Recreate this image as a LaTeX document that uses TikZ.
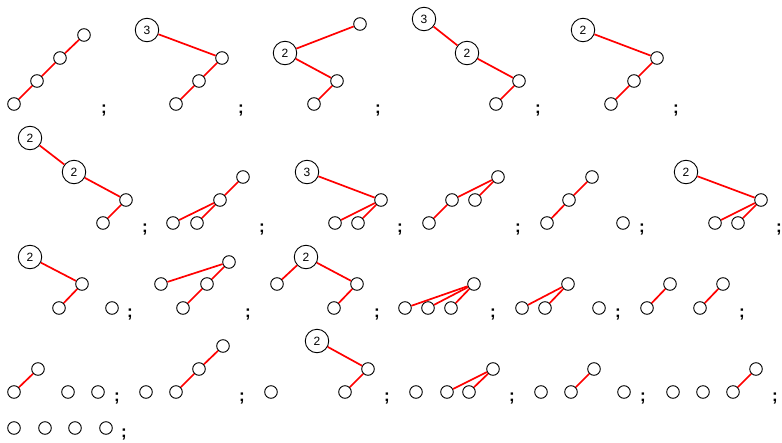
\documentclass[tikz,border=0pt]{standalone}
\usepackage{fontspec}
\setmainfont{Liberation Sans}
\begin{document}
\begin{tikzpicture}[x=1pt,y=-1pt,
  sn/.style={circle,draw=black,line width=0.9pt,inner sep=0pt,minimum size=12.6pt,fill=white},
  bn/.style={circle,draw=black,line width=0.9pt,inner sep=0pt,minimum size=23.5pt,fill=white,font=\fontsize{12}{12}\selectfont},
  ed/.style={draw=red,line width=1.7pt},
  sc/.style={anchor=base,inner sep=0pt,font=\fontsize{17}{17}\selectfont\bfseries}]
\useasboundingbox (0,0) rectangle (782,442);
% Row 1
\node[sn] (t1a) at (84,35) {}; \node[sn] (t1b) at (60,58) {}; \node[sn] (t1c) at (37,81) {}; \node[sn] (t1d) at (14,104) {};
\draw[ed] (t1a) -- (t1b); \draw[ed] (t1b) -- (t1c); \draw[ed] (t1c) -- (t1d);
\node[sc] (s1) at (104,113) {;};
\node[bn] (t2a) at (147,30) {3}; \node[sn] (t2b) at (222,58) {}; \node[sn] (t2c) at (199,81) {}; \node[sn] (t2d) at (176,104) {};
\draw[ed] (t2a) -- (t2b); \draw[ed] (t2b) -- (t2c); \draw[ed] (t2c) -- (t2d);
\node[sc] (s2) at (241,113) {;};
\node[bn] (t3a) at (285,53) {2}; \node[sn] (t3b) at (360,24) {}; \node[sn] (t3c) at (337,81) {}; \node[sn] (t3d) at (314,104) {};
\draw[ed] (t3a) -- (t3b); \draw[ed] (t3a) -- (t3c); \draw[ed] (t3c) -- (t3d);
\node[sc] (s3) at (378,113) {;};
\node[bn] (t4a) at (424,19) {3}; \node[bn] (t4b) at (467,53) {2}; \node[sn] (t4c) at (519,81) {}; \node[sn] (t4d) at (496,104) {};
\draw[ed] (t4a) -- (t4b); \draw[ed] (t4b) -- (t4c); \draw[ed] (t4c) -- (t4d);
\node[sc] (s4) at (538,113) {;};
\node[bn] (t5a) at (583,30) {2}; \node[sn] (t5b) at (657,58) {}; \node[sn] (t5c) at (634,81) {}; \node[sn] (t5d) at (611,104) {};
\draw[ed] (t5a) -- (t5b); \draw[ed] (t5b) -- (t5c); \draw[ed] (t5c) -- (t5d);
\node[sc] (s5) at (676,113) {;};
% Row 2
\node[bn] (t6a) at (30,138) {2}; \node[bn] (t6b) at (74,172) {2}; \node[sn] (t6c) at (126,200) {}; \node[sn] (t6d) at (103,223) {};
\draw[ed] (t6a) -- (t6b); \draw[ed] (t6b) -- (t6c); \draw[ed] (t6c) -- (t6d);
\node[sc] (s6) at (145,232) {;};
\node[sn] (t7a) at (243,177) {}; \node[sn] (t7b) at (220,200) {}; \node[sn] (t7c) at (173,223) {}; \node[sn] (t7d) at (197,223) {};
\draw[ed] (t7a) -- (t7b); \draw[ed] (t7b) -- (t7c); \draw[ed] (t7b) -- (t7d);
\node[sc] (s7) at (262,232) {;};
\node[bn] (t8a) at (307,172) {3}; \node[sn] (t8b) at (381,200) {}; \node[sn] (t8c) at (335,223) {}; \node[sn] (t8d) at (358,223) {};
\draw[ed] (t8a) -- (t8b); \draw[ed] (t8b) -- (t8c); \draw[ed] (t8b) -- (t8d);
\node[sc] (s8) at (400,232) {;};
\node[sn] (t9a) at (498,177) {}; \node[sn] (t9b) at (452,200) {}; \node[sn] (t9c) at (475,200) {}; \node[sn] (t9d) at (429,223) {};
\draw[ed] (t9a) -- (t9b); \draw[ed] (t9a) -- (t9c); \draw[ed] (t9b) -- (t9d);
\node[sc] (s9) at (518,232) {;};
\node[sn] (t10a) at (592,177) {}; \node[sn] (t10b) at (569,200) {}; \node[sn] (t10c) at (547,223) {}; \node[sn] (t10e) at (623,223) {};
\draw[ed] (t10a) -- (t10b); \draw[ed] (t10b) -- (t10c);
\node[sc] (s10) at (642,232) {;};
\node[bn] (t11a) at (686,172) {2}; \node[sn] (t11b) at (761,200) {}; \node[sn] (t11c) at (715,223) {}; \node[sn] (t11d) at (738,223) {};
\draw[ed] (t11a) -- (t11b); \draw[ed] (t11b) -- (t11c); \draw[ed] (t11b) -- (t11d);
\node[sc] (s11) at (779,232) {;};
% Row 3
\node[bn] (t12a) at (30,257) {2}; \node[sn] (t12b) at (82,284) {}; \node[sn] (t12c) at (59,308) {}; \node[sn] (t12e) at (112,308) {};
\draw[ed] (t12a) -- (t12b); \draw[ed] (t12b) -- (t12c);
\node[sc] (s12) at (130,317) {;};
\node[sn] (t13a) at (229,262) {}; \node[sn] (t13b) at (161,284) {}; \node[sn] (t13c) at (207,284) {}; \node[sn] (t13d) at (183,308) {};
\draw[ed] (t13a) -- (t13b); \draw[ed] (t13a) -- (t13c); \draw[ed] (t13c) -- (t13d);
\node[sc] (s13) at (248,317) {;};
\node[bn] (t14a) at (306,257) {2}; \node[sn] (t14b) at (277,284) {}; \node[sn] (t14c) at (357,284) {}; \node[sn] (t14d) at (334,308) {};
\draw[ed] (t14a) -- (t14b); \draw[ed] (t14a) -- (t14c); \draw[ed] (t14c) -- (t14d);
\node[sc] (s14) at (377,317) {;};
\node[sn] (t15a) at (474,284) {}; \node[sn] (t15b) at (405,308) {}; \node[sn] (t15c) at (428,308) {}; \node[sn] (t15d) at (451,308) {};
\draw[ed] (t15a) -- (t15b); \draw[ed] (t15a) -- (t15c); \draw[ed] (t15a) -- (t15d);
\node[sc] (s15) at (493,317) {;};
\node[sn] (t16a) at (568,284) {}; \node[sn] (t16b) at (522,308) {}; \node[sn] (t16c) at (545,308) {}; \node[sn] (t16e) at (599,308) {};
\draw[ed] (t16a) -- (t16b); \draw[ed] (t16a) -- (t16c);
\node[sc] (s16) at (618,317) {;};
\node[sn] (t17a) at (670,284) {}; \node[sn] (t17b) at (647,308) {}; \node[sn] (t17c) at (723,284) {}; \node[sn] (t17d) at (700,308) {};
\draw[ed] (t17a) -- (t17b); \draw[ed] (t17c) -- (t17d);
\node[sc] (s17) at (742,317) {;};
% Row 4
\node[sn] (t18a) at (38,369) {}; \node[sn] (t18b) at (14,392) {}; \node[sn] (t18c) at (68,392) {}; \node[sn] (t18d) at (98,392) {};
\draw[ed] (t18a) -- (t18b);
\node[sc] (s18) at (117,401) {;};
\node[sn] (t19a) at (146,392) {}; \node[sn] (t19b) at (176,392) {}; \node[sn] (t19c) at (199,369) {}; \node[sn] (t19d) at (223,346) {};
\draw[ed] (t19d) -- (t19c); \draw[ed] (t19c) -- (t19b);
\node[sc] (s19) at (242,401) {;};
\node[sn] (t20a) at (271,392) {}; \node[bn] (t20b) at (317,341) {2}; \node[sn] (t20c) at (368,369) {}; \node[sn] (t20d) at (345,392) {};
\draw[ed] (t20b) -- (t20c); \draw[ed] (t20c) -- (t20d);
\node[sc] (s20) at (387,401) {;};
\node[sn] (t21a) at (416,392) {}; \node[sn] (t21b) at (447,392) {}; \node[sn] (t21c) at (469,392) {}; \node[sn] (t21d) at (493,369) {};
\draw[ed] (t21d) -- (t21b); \draw[ed] (t21d) -- (t21c);
\node[sc] (s21) at (512,401) {;};
\node[sn] (t22a) at (541,392) {}; \node[sn] (t22b) at (571,392) {}; \node[sn] (t22c) at (594,369) {}; \node[sn] (t22d) at (624,392) {};
\draw[ed] (t22c) -- (t22b);
\node[sc] (s22) at (643,401) {;};
\node[sn] (t23a) at (673,392) {}; \node[sn] (t23b) at (703,392) {}; \node[sn] (t23c) at (733,392) {}; \node[sn] (t23d) at (756,369) {};
\draw[ed] (t23d) -- (t23c);
\node[sc] (s23) at (775,401) {;};
% Row 5
\node[sn] (t24a) at (14,428) {}; \node[sn] (t24b) at (45,428) {}; \node[sn] (t24c) at (75,428) {}; \node[sn] (t24d) at (106,428) {};
\node[sc] (s24) at (124,437) {;};
\end{tikzpicture}
\end{document}
